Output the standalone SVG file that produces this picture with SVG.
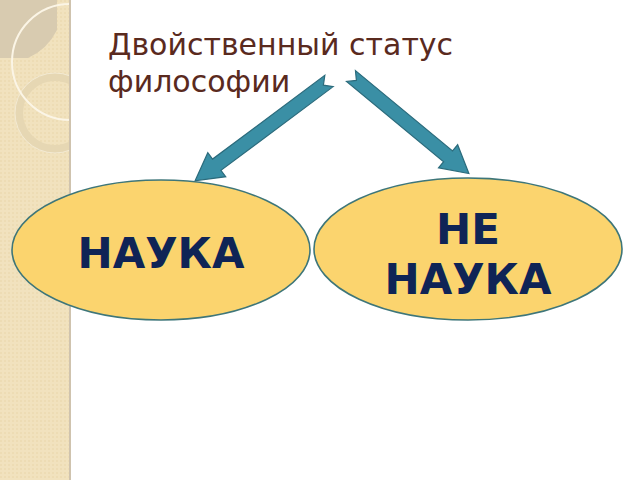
<svg xmlns="http://www.w3.org/2000/svg" width="640" height="480" viewBox="0 0 640 480">
<defs>
<pattern id="dots" width="4" height="4" patternUnits="userSpaceOnUse">
<rect width="4" height="4" fill="#F1E2BE"/>
<rect width="2" height="2" fill="#EDDCB4"/>
</pattern>
<clipPath id="strip"><rect x="0" y="0" width="70" height="480"/></clipPath>
<style>
.node{fill:#FBD46E;stroke:#3E7679;stroke-width:1.6}
.lbl{font-family:"DejaVu Sans",Verdana,sans-serif;font-weight:bold;font-size:42px;fill:#0F2456;text-anchor:middle}
.title{font-family:"DejaVu Sans",Verdana,sans-serif;font-size:30px;fill:#5A2A1E}
.arrow{fill:#3A8FA5;stroke:#2B6B7C;stroke-width:1.2;stroke-linejoin:miter}
</style>
</defs>
<rect width="640" height="480" fill="#FFFFFF"/>
<g id="background">
<rect x="0" y="0" width="70" height="480" fill="url(#dots)"/>
<g clip-path="url(#strip)">
<path d="M0 0 H57 V30 A60 60 0 0 1 28 58 H0 Z" fill="#D8CBB0"/>
<circle cx="55" cy="113" r="36" fill="none" stroke="#E6D7B3" stroke-width="8"/>
<circle cx="55" cy="113" r="40" fill="none" stroke="#F3EAD3" stroke-width="1"/>
<circle cx="70" cy="62" r="58" fill="none" stroke="#FBF5E6" stroke-width="2"/>
</g>
<line x1="70" y1="0" x2="70" y2="480" stroke="#CFC3AE" stroke-width="2"/>
</g>
<g id="title">
<text class="title" x="108" y="55">Двойственный статус</text>
<text class="title" x="108" y="92">философии</text>
</g>
<g id="connectors">
<polygon class="arrow" transform="translate(329,81) rotate(143.3)" points="0,-7 140,-7 140,-15 167,0 140,15 140,7 0,7 7,0"/>
<polygon class="arrow" transform="translate(351,76) rotate(39.6)" points="0,-7 126,-7 126,-15 153,0 126,15 126,7 0,7 7,0"/>
</g>
<g id="node-nauka">
<ellipse class="node" cx="161" cy="250" rx="149" ry="70"/>
<text class="lbl" x="161" y="268">НАУКА</text>
</g>
<g id="node-ne-nauka">
<ellipse class="node" cx="468" cy="249" rx="154" ry="71"/>
<text class="lbl" x="468" y="244">НЕ</text>
<text class="lbl" x="468" y="294">НАУКА</text>
</g>
</svg>
